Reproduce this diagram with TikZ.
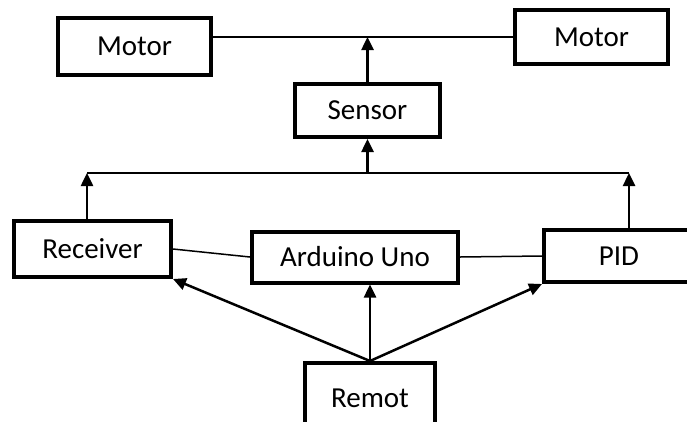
\documentclass[tikz,border=0pt]{standalone}
\usepackage{fontspec}
\setmainfont{Carlito}
\usetikzlibrary{arrows.meta}
\begin{document}
\begin{tikzpicture}[x=1pt,y=-1pt,
		blk/.style={draw,line width=4pt,inner sep=0pt,font=\fontsize{29}{34}\selectfont},
		arr/.style={line width=2.5pt,-{Triangle[length=13pt,width=12pt]}},
		ln/.style={line width=1.5pt}]
		\useasboundingbox (0,0) rectangle (687,421);
		\clip (0,0) rectangle (687,421);
		\node[blk,minimum width=153pt,minimum height=57pt] (motorL) at (134.5,46.5) {Motor};
		\node[blk,minimum width=153pt,minimum height=54pt] (motorR) at (591.5,37) {Motor};
		\node[blk,minimum width=145pt,minimum height=53pt] (sensor) at (367.5,110.5) {Sensor};
		\node[blk,minimum width=157pt,minimum height=56pt] (receiver) at (92.5,249) {Receiver};
		\node[blk,minimum width=206pt,minimum height=51pt] (arduino) at (355,257) {Arduino Uno};
		\node[blk,minimum width=150pt,minimum height=52pt] (pid) at (619,256) {PID};
		\node[blk,minimum width=130pt,minimum height=70pt] (remot) at (370,398) {Remot};
		% top line and sensor
		\coordinate (top) at (sensor.north |- motorR.west);
		\draw[ln] (motorL.east |- motorR.west) -- (motorR.west);
		\draw[arr] (sensor.north) -- (top);
		% bus
		\coordinate (busL) at (87,173);
		\coordinate (busR) at (629,173);
		\draw[ln] (busL) -- (busR);
		\draw[arr] (busL |- receiver.north) -- (busL);
		\draw[arr] (busR |- pid.north) -- (busR);
		\draw[arr] (sensor.south |- busL) -- (sensor.south);
		% links
		\draw[ln] (receiver.east) -- (arduino.west);
		\draw[ln] (arduino.east) -- (pid.west);
		\draw[arr] (remot.north) -- (receiver.south east);
		\draw[arr] (remot.north) -- (remot.north |- arduino.south);
		\draw[arr] (remot.north) -- (pid.south west);
\end{tikzpicture}
\end{document}
